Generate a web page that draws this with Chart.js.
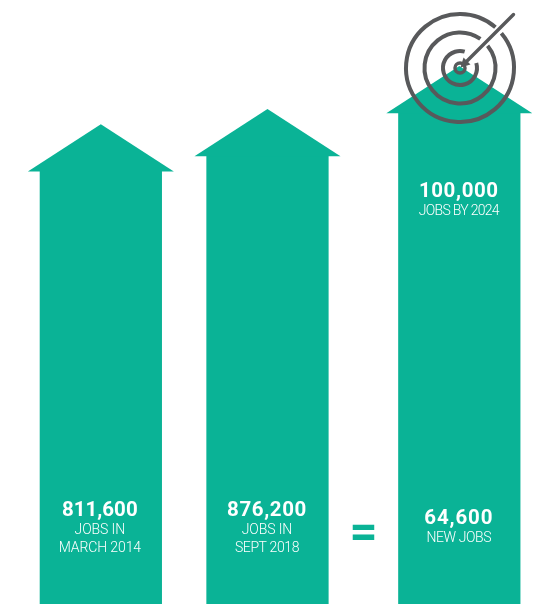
<!DOCTYPE html>
<html>
<head>
<meta charset="utf-8">
<style>
  html, body { margin: 0; padding: 0; background: #ffffff; }
  canvas { display: block; }
</style>
<script src="https://cdn.jsdelivr.net/npm/chart.js@4/dist/chart.umd.min.js"></script>
</head>
<body>
<canvas id="jobs" width="544" height="604"></canvas>
<script>
// Measured employment and the target, placed on a decimal-year axis
const measuredYears = [2014.25, 2018.75];
const measuredJobs = [811600, 876200];
const targetYears = [2023.93];
const targetJobs = [100000];

const boldLabels = ['811,600', '876,200', '64,600'];
const lightLabels = [['JOBS IN', 'MARCH 2014'], ['JOBS IN', 'SEPT 2018'], ['NEW JOBS']];
const targetBold = '100,000';
const targetLight = 'JOBS BY 2024';

const TEAL = '#0ab396';
const GREY = '#58595b';
const FONT = 'Roboto, sans-serif';

// Arrowheads sit on top of each bar; the column captions are written over the bars
const arrowPlugin = {
  id: 'arrows',
  afterDatasetsDraw(chart) {
    const { ctx } = chart;
    const bars = [...chart.getDatasetMeta(0).data, ...chart.getDatasetMeta(1).data];
    ctx.save();
    ctx.fillStyle = TEAL;
    for (const bar of bars) {
      ctx.beginPath();
      ctx.moveTo(bar.x - 73, bar.y + 0.3);
      ctx.lineTo(bar.x, bar.y - 47);
      ctx.lineTo(bar.x + 73, bar.y + 0.3);
      ctx.closePath();
      ctx.fill();
    }
    ctx.restore();
    drawCaptions(ctx, bars);
    drawTarget(ctx);
  }
};

// Each caption carries its own tracking so the lines set to an even measure
function caption(ctx, x, y, text, bold, tracking) {
  ctx.font = (bold ? '700 20.5px ' : '300 14px ') + FONT;
  ctx.letterSpacing = tracking + 'px';
  ctx.fillText(text, x, y);
}

function drawCaptions(ctx, bars) {
  ctx.save();
  ctx.fillStyle = '#ffffff';
  ctx.textAlign = 'center';
  ctx.textBaseline = 'alphabetic';
  const nudge = [-1, -0.5, -0.5];
  const headY = [516, 516, 524];
  const boldTracking = [0, 0.6, 0.85];
  const lightTracking = [[-0.1, -0.1], [-0.1, -0.4], [-0.4]];
  bars.forEach((bar, i) => {
    const x = bar.x + nudge[i];
    caption(ctx, x, headY[i], boldLabels[i], true, boldTracking[i]);
    lightLabels[i].forEach((line, j) =>
      caption(ctx, x, headY[i] + 18 + j * 18, line, false, lightTracking[i][j]));
  });
  const cx = bars[2].x - 0.5;
  caption(ctx, cx, 197, targetBold, true, 0.6);
  caption(ctx, cx, 215, targetLight, false, -0.7);

  // Equals sign between the two left columns and the result
  ctx.fillStyle = TEAL;
  ctx.letterSpacing = '0px';
  ctx.font = '700 49px ' + FONT;
  ctx.fillText('=', 363.5, 548);
  ctx.restore();
}

function ring(ctx, cx, cy, r, gapFrom, gapTo) {
  const rad = Math.PI / 180;
  ctx.beginPath();
  ctx.arc(cx, cy, r, gapTo * rad, (gapFrom + 360) * rad);
  ctx.stroke();
}

// Bullseye with an arrow striking the centre of it; each ring opens around the shaft
function drawTarget(ctx) {
  const cx = 460;
  const cy = 68;
  ctx.save();
  ctx.strokeStyle = GREY;
  ctx.lineWidth = 4;
  ring(ctx, cx, cy, 54, -49, -40);
  ring(ctx, cx, cy, 35.5, -55, -39);
  ring(ctx, cx, cy, 17, -74, -17);
  ctx.lineWidth = 3.5;
  ctx.beginPath();
  ctx.arc(cx, cy, 5, 0, Math.PI * 2);
  ctx.stroke();

  ctx.lineWidth = 3.4;
  ctx.lineCap = 'round';
  ctx.beginPath();
  ctx.moveTo(513.5, 14.5);
  ctx.lineTo(465, 63);
  ctx.stroke();

  ctx.fillStyle = GREY;
  ctx.beginPath();
  ctx.moveTo(460.5, 67.5);
  ctx.lineTo(463.5, 57.5);
  ctx.lineTo(470.5, 64.5);
  ctx.closePath();
  ctx.fill();
  ctx.restore();
}

new Chart(document.getElementById('jobs'), {
  type: 'bar',
  data: {
    datasets: [
      {
        data: measuredYears.map((year, i) => ({ x: year, y: measuredJobs[i] })),
        yAxisID: 'y',
        base: -1015300,
        backgroundColor: TEAL,
        barThickness: 121.6,
        grouped: false
      },
      {
        data: targetYears.map((year, i) => ({ x: year, y: targetJobs[i] })),
        yAxisID: 'yTarget',
        backgroundColor: TEAL,
        barThickness: 121.6,
        grouped: false
      }
    ]
  },
  options: {
    responsive: false,
    animation: false,
    layout: { padding: 0 },
    plugins: { legend: { display: false }, tooltip: { enabled: false } },
    scales: {
      x: { type: 'linear', display: false, offset: false, min: 2011.527, max: 2026.217 },
      y: { display: false, min: -1015300, max: 1534800 },
      yTarget: { display: false, min: 0, max: 123014 }
    }
  },
  plugins: [arrowPlugin]
});
</script>
</body>
</html>
